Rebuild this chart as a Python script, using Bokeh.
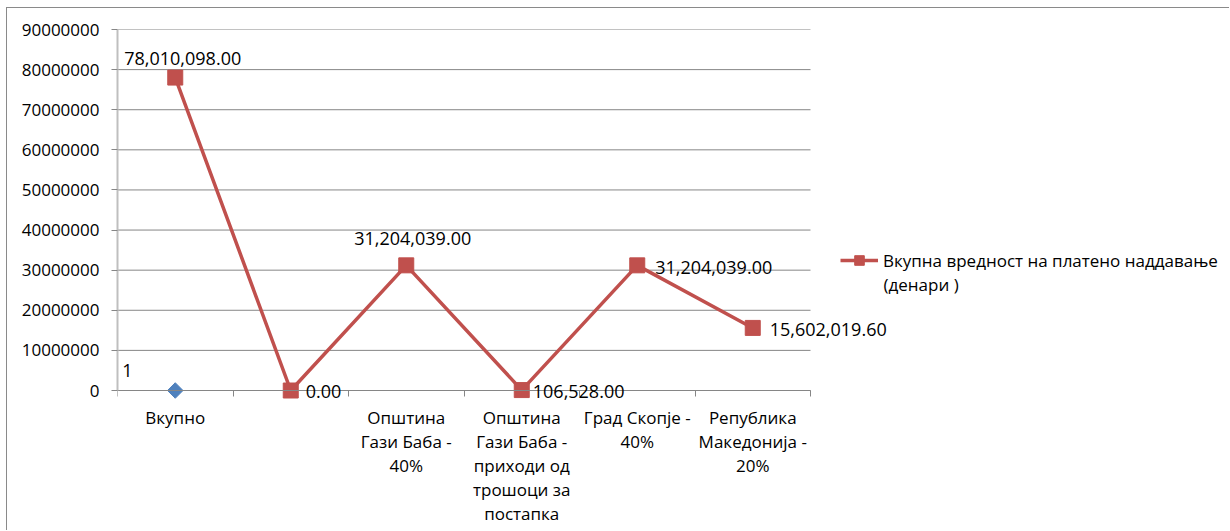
import math
from bokeh.plotting import figure
from bokeh.models import (Range1d, FixedTicker, NumeralTickFormatter, ColumnDataSource,
                          LabelSet, Legend, LegendItem)
from bokeh.core.properties import value
from bokeh.embed import file_html
from bokeh.resources import INLINE

# ---------------- data ----------------
categories = ["Вкупно", "", "Општина Гази Баба - 40%",
              "Општина Гази Баба - приходи од трошоци за постапка",
              "Град Скопје - 40%", "Република Македонија - 20%"]
tick_labels = ["Вкупно", "", "Општина\nГази Баба -\n40%",
               "Општина\nГази Баба -\nприходи од\nтрошоци за\nпостапка",
               "Град Скопје -\n40%", "Република\nМакедонија -\n20%"]
paid_values = [78010098.00, 0.00, 31204039.00, 106528.00, 31204039.00, 15602019.60]
series_name = "Вкупна вредност на платено наддавање\n(денари )"
marker_categories = ["Вкупно"]
marker_values = [1]
y_ticks = [0, 10000000, 20000000, 30000000, 40000000, 50000000,
           60000000, 70000000, 80000000, 90000000]

# ---------------- styling / layout ----------------
FONT = "Open Sans"
FS = "17px"
FS_DATA = "18px"
RED = "#C0504D"
BLUE = "#4F81BD"
GRID = "#868686"

FIG_W, FIG_H = 1223, 523
LEFT, TOP = 110, 21
PLOT_PX_W = 693          # width of the category area in px
PLOT_PX_H = 361          # px from 0 to the top tick
LINE_PX = 24             # line spacing of category labels
frame_w = FIG_W - LEFT
frame_h = FIG_H - TOP
n = len(categories)
x_end = n * frame_w / PLOT_PX_W
y_top = y_ticks[-1]
y_start = -(frame_h - PLOT_PX_H) / PLOT_PX_H * y_top

# label offsets (screen px) for the data labels
label_dx = [-51, 15, -52, 11, 18, 17]
label_dy = [19, -1, 27, -1, -2, -2]

xs = [i + 0.5 for i in range(n)]
idx = {c: i for i, c in enumerate(categories)}
mxs = [idx[c] + 0.5 for c in marker_categories]

p = figure(width=FIG_W, height=FIG_H,
           x_range=Range1d(0, x_end), y_range=Range1d(y_start, y_top),
           x_axis_location="above",
           output_backend="svg", toolbar_location=None,
           min_border_left=LEFT, min_border_right=0,
           min_border_top=TOP, min_border_bottom=0)
p.outline_line_color = None
p.styles = {"border-left": "1px solid #8a8a8a", "border-top": "1px solid #8a8a8a",
            "margin-left": "6px", "margin-top": "7px"}

p.xgrid.visible = False
p.ygrid.visible = False

# horizontal gridlines across the category area
p.segment(x0=[0] * len(y_ticks), x1=[n] * len(y_ticks), y0=y_ticks, y1=y_ticks,
          line_color=GRID, line_width=1)

# y axis
p.yaxis.ticker = FixedTicker(ticks=y_ticks)
p.yaxis.bounds = (0, y_top)
p.yaxis.formatter = NumeralTickFormatter(format="0")
p.yaxis.axis_line_color = "#BFBFBF"
p.yaxis.axis_line_width = 2
p.yaxis.major_tick_line_color = GRID
p.yaxis.major_tick_out = 6
p.yaxis.major_tick_in = 0
p.yaxis.minor_tick_line_color = None
p.yaxis.major_label_text_font = FONT
p.yaxis.major_label_text_font_size = FS
p.yaxis.major_label_text_color = "#000000"
p.yaxis.major_label_standoff = 12

# x axis: line + boundary ticks at y = 0 (ticks pointing down)
bounds_ticks = list(range(n + 1))
p.xaxis.fixed_location = 0
p.xaxis.bounds = (0, n)
p.xaxis.ticker = FixedTicker(ticks=bounds_ticks)
p.xaxis.major_label_overrides = {t: "" for t in bounds_ticks}
p.xaxis.axis_line_color = GRID
p.xaxis.major_tick_line_color = GRID
p.xaxis.major_tick_out = 0
p.xaxis.major_tick_in = 6
p.xaxis.minor_tick_line_color = None
p.xaxis.major_label_text_font_size = "1px"
p.xaxis.major_label_standoff = 0

# category labels below the axis, each line centred
lx, lt, ldy = [], [], []
for x, lab in zip(xs, tick_labels):
    for j, line in enumerate(lab.split("\n")):
        if line:
            lx.append(x)
            lt.append(line)
            ldy.append(-27 - LINE_PX * j)
csrc = ColumnDataSource(dict(x=lx, y=[0] * len(lx), txt=lt, dy=ldy))
p.add_layout(LabelSet(x="x", y="y", text="txt", source=csrc, y_offset="dy",
                      text_font=value(FONT), text_font_size=value(FS),
                      text_color="#000000", text_align="center",
                      text_baseline="middle"))

# series
src = ColumnDataSource(dict(
    x=xs, y=paid_values,
    txt=[f"{v:,.2f}" for v in paid_values],
    dx=label_dx, dy=label_dy))
line_r = p.line("x", "y", source=src, line_color=RED, line_width=3.5)
sq_r = p.scatter("x", "y", source=src, marker="square", size=15,
                 fill_color=RED, line_color=RED)

msrc = ColumnDataSource(dict(x=mxs, y=marker_values,
                             txt=[str(v) for v in marker_values]))
p.scatter("x", "y", source=msrc, marker="square", size=11, angle=math.pi / 4,
          fill_color=BLUE, line_color=BLUE)

p.add_layout(LabelSet(x="x", y="y", text="txt", source=src,
                      x_offset="dx", y_offset="dy",
                      text_font=value(FONT), text_font_size=value(FS_DATA),
                      text_color="#000000",
                      text_align="left", text_baseline="middle"))
p.add_layout(LabelSet(x="x", y="y", text="txt", source=msrc,
                      x_offset=-53, y_offset=20,
                      text_font=value(FONT), text_font_size=value(FS_DATA),
                      text_color="#000000",
                      text_align="left", text_baseline="middle"))

# legend: first line of the name with the glyph, further lines below it
name_lines = series_name.split("\n")
LEG_X, LEG_TOP = 723, 260 - TOP - 8   # px of first line centre from frame top
legend = Legend(items=[LegendItem(label=name_lines[0], renderers=[line_r, sq_r])],
                location=(LEG_X, frame_h - LEG_TOP - 12))
legend.label_text_font = FONT
legend.label_text_font_size = FS
legend.label_text_color = "#000000"
legend.label_height = 24
legend.glyph_width = 38
legend.glyph_height = 24
legend.label_standoff = 5
legend.padding = 0
legend.margin = 0
legend.border_line_color = None
legend.background_fill_alpha = 0
p.add_layout(legend, "center")

extra = ColumnDataSource(dict(x=[0] * (len(name_lines) - 1),
                              y=[y_top] * (len(name_lines) - 1),
                              txt=name_lines[1:],
                              dy=[-(LEG_TOP + 24 * (k + 1)) for k in range(len(name_lines) - 1)]))
p.add_layout(LabelSet(x="x", y="y", text="txt", source=extra,
                      x_offset=LEG_X + 38 + 5, y_offset="dy",
                      text_font=value(FONT), text_font_size=value(FS),
                      text_color="#000000", text_align="left",
                      text_baseline="middle"))

open("out.html", "w").write(file_html(p, INLINE))
